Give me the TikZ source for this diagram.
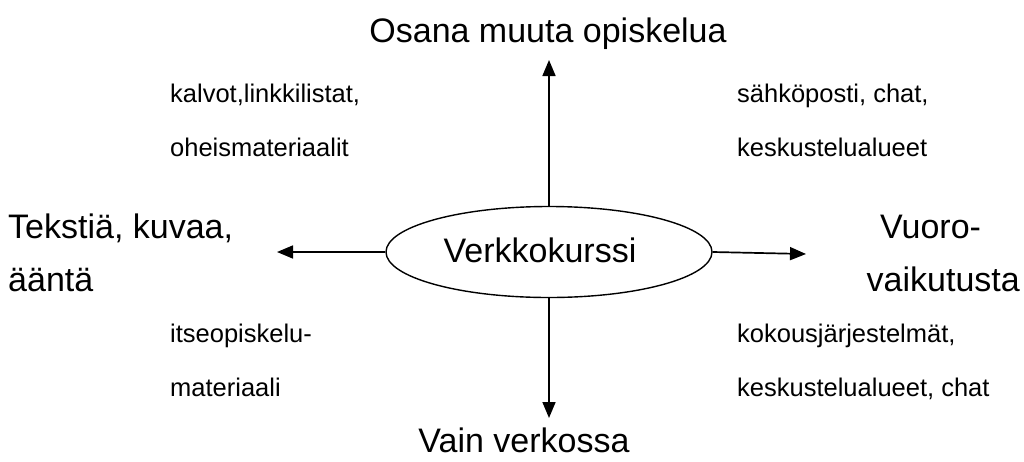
\documentclass[tikz,border=0pt]{standalone}
\usepackage{fontspec}
\setmainfont{Liberation Sans}
\usepackage{tikz}
\usetikzlibrary{arrows.meta}
\usetikzlibrary{shapes.geometric}

\tikzset{
	iso/.style={font=\fontsize{34}{40}\selectfont, inner sep=0pt},
	pieni/.style={font=\fontsize{25.5}{30}\selectfont, inner sep=0pt, anchor=base west},
	nuoli/.style={line width=1.7pt, -{Triangle[length=16pt,width=13pt]}}
}

\begin{document}
\begin{tikzpicture}[x=1pt,y=-1pt]
\useasboundingbox (0,0) rectangle (1024,461);

\node [draw, ellipse, line width=1.4pt, minimum width=326pt, minimum height=91pt, inner sep=0pt] (kurssi) at (549,252) {};
\node [iso] (kurssiteksti) at (540,250) {Verkkokurssi};

% suunnat
\node [iso, anchor=base] (ylos) at (548,42) {Osana muuta opiskelua};
\node [iso, anchor=base] (alas) at (524,452) {Vain verkossa};
\node [iso, anchor=base west] (vasen1) at (8,238) {Tekstiä, kuvaa,};
\node [iso, anchor=base west] (vasen2) at (8,291) {ääntä};
\node [iso, anchor=base west] (oikea1) at (880,238) {Vuoro-};
\node [iso, anchor=base east] (oikea2) at (1020,291) {vaikutusta};

\coordinate (ylosk) at (549,60);
\coordinate (alask) at (549,418);
\coordinate (vasenk) at (277,252);
\coordinate (oikeak) at (806,254);

\draw [nuoli] (kurssi.north) -- (ylosk);
\draw [nuoli] (kurssi.south) -- (alask);
\draw [nuoli] (kurssi.west) -- (vasenk);
\draw [nuoli] (kurssi.east) -- (oikeak);

% lohkot
\node [pieni] (a1) at (170,102) {kalvot,linkkilistat,};
\node [pieni] (a2) at (170,156) {oheismateriaalit};
\node [pieni] (b1) at (737,102) {sähköposti, chat,};
\node [pieni] (b2) at (737,156) {keskustelualueet};
\node [pieni] (c1) at (170,342) {itseopiskelu-};
\node [pieni] (c2) at (170,396) {materiaali};
\node [pieni] (d1) at (737,342) {kokousjärjestelmät,};
\node [pieni] (d2) at (737,396) {keskustelualueet, chat};

\end{tikzpicture}
\end{document}
